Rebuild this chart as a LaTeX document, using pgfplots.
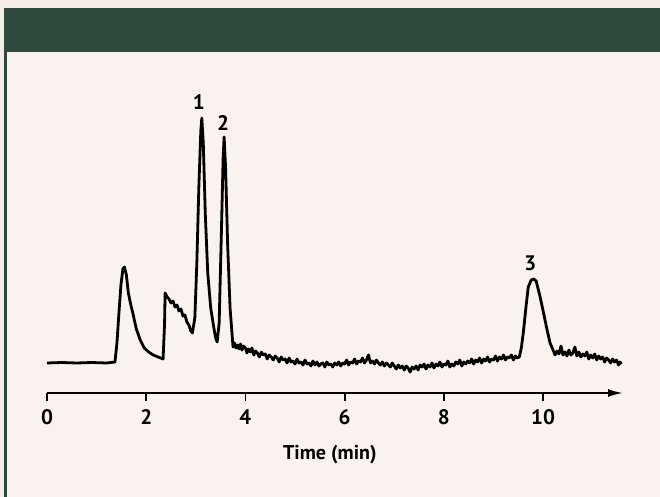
\documentclass[border=0pt]{standalone}
\usepackage{pgfplots}
\pgfplotsset{compat=1.18}
\usetikzlibrary{arrows.meta}
\usepackage{fontspec}
\setmainfont{PT Sans}
\definecolor{bgpink}{HTML}{F6ECE6}
\definecolor{panel}{HTML}{FAF2EE}
\definecolor{hdrgreen}{HTML}{2E4A3C}

\begin{document}
\begin{tikzpicture}
% frame: page, header bar, left rule
\fill[bgpink] (0,0) rectangle (660bp,497bp);
\fill[panel] (7bp,0) rectangle (660bp,445bp);
\fill[hdrgreen] (4bp,445bp) rectangle (660bp,489bp);
\fill[hdrgreen] (4bp,0) rectangle (7bp,445bp);

\begin{axis}[
  at={(47bp,104bp)}, anchor=south west,
  scale only axis, width=576bp, height=303bp,
  xmin=0, xmax=11.61, ymin=0, ymax=303,
  enlargelimits=false, clip=false,
  axis x line=bottom, axis y line=none,
  x axis line style={line width=2bp, -{Latex[length=15bp,width=8bp]}},
  xtick={0,2,4,6,8,10}, xtick align=outside,
  major tick length=8bp,
  tick style={line width=1.8bp, black},
  /pgf/number format/assume math mode=true,
  xticklabel={\bfseries\pgfmathprintnumber{\tick}},
  xticklabel style={font=\fontsize{21bp}{23bp}\selectfont, yshift=-5bp},
  xlabel={\bfseries Time (min)},
  xlabel style={font=\fontsize{20bp}{22bp}\selectfont, at={(axis description cs:0.491,0)}, anchor=center, yshift=-62bp},
]
\addplot[black, line width=2.8bp, line join=round] coordinates {
(0,30) (0.3,30.5) (0.6,30) (0.9,30.5) (1.2,30) (1.37,31)
(1.41,50) (1.45,80) (1.49,108) (1.53,124) (1.56,126) (1.60,118) (1.64,100)
(1.69,88) (1.73,80) (1.80,64) (1.88,53) (1.96,45) (2.05,41) (2.14,38) (2.24,36) (2.34,34)
(2.37,70) (2.38,100) (2.42,96) (2.46,94) (2.50,90) (2.54,92) (2.58,86) (2.62,88)
(2.66,82) (2.70,84) (2.74,77) (2.78,78) (2.82,71) (2.86,68) (2.90,62) (2.93,60)
(2.98,75) (3.02,130) (3.06,205) (3.10,262) (3.12,275) (3.15,250) (3.19,180)
(3.24,120) (3.30,85) (3.36,66) (3.40,55) (3.43,51)
(3.47,70) (3.51,150) (3.55,235) (3.57,256) (3.60,225) (3.64,150) (3.69,85) (3.75,46)
(3.78,50) (3.81,45) (3.84,48) (3.87,44) (3.90,49) (3.93,43) (3.96,47) (4.00,45)
(4.03,40) (4.06,44) (4.10,41) (4.13,45) (4.17,38) (4.20,42) (4.24,40) (4.28,36)
(4.32,41) (4.36,38) (4.40,39) (4.44,34) (4.48,38) (4.52,36) (4.56,33) (4.60,37)
(4.64,35) (4.68,31) (4.72,36) (4.76,33) (4.80,34) (4.84,30) (4.88,35) (4.92,31)
(4.96,32) (5.00,29) (5.04,34) (5.08,30) (5.12,31) (5.16,28) (5.20,33) (5.24,29)
(5.28,30) (5.32,27) (5.36,32) (5.40,28) (5.44,31) (5.48,27) (5.52,29) (5.56,30)
(5.60,26) (5.64,31) (5.68,28) (5.72,29) (5.76,26) (5.80,30) (5.84,28) (5.88,31)
(5.92,27) (5.96,30) (6.00,29) (6.04,33) (6.08,28) (6.12,31) (6.16,30) (6.20,34)
(6.24,29) (6.28,32) (6.32,31) (6.36,35) (6.40,30) (6.44,33) (6.48,38) (6.52,30)
(6.56,32) (6.60,29) (6.64,33) (6.68,30) (6.72,28) (6.76,31) (6.80,27) (6.84,30)
(6.88,28) (6.92,26) (6.96,30) (7.00,27) (7.04,24) (7.08,28) (7.12,25) (7.16,27)
(7.20,23) (7.24,27) (7.28,25) (7.32,21) (7.36,26) (7.40,24) (7.44,27) (7.48,23)
(7.52,28) (7.56,26) (7.60,29) (7.64,24) (7.68,28) (7.72,26) (7.76,30) (7.80,25)
(7.84,29) (7.88,27) (7.92,31) (7.96,26) (8.00,29) (8.04,28) (8.08,32) (8.12,26)
(8.16,29) (8.20,27) (8.24,31) (8.28,29) (8.32,33) (8.36,27) (8.40,31) (8.44,29)
(8.48,32) (8.52,30) (8.56,34) (8.60,29) (8.64,33) (8.68,31) (8.72,35) (8.76,30)
(8.80,34) (8.84,32) (8.88,36) (8.92,31) (8.96,34) (9.00,33) (9.04,37) (9.08,32)
(9.12,36) (9.16,34) (9.20,38) (9.24,33) (9.28,36) (9.32,35) (9.36,38) (9.40,33)
(9.44,37) (9.48,35) (9.52,36)
(9.56,45) (9.60,60) (9.65,84) (9.70,106) (9.76,113) (9.81,114) (9.86,112)
(9.90,104) (9.94,96) (10.00,82) (10.08,63) (10.14,50) (10.20,43)
(10.24,38) (10.28,42) (10.32,39) (10.36,47) (10.40,38) (10.44,41) (10.48,37)
(10.52,43) (10.56,38) (10.60,40) (10.64,46) (10.68,37) (10.72,41) (10.76,36)
(10.80,39) (10.84,37) (10.88,41) (10.92,34) (10.96,38) (11.00,35) (11.04,39)
(11.08,33) (11.12,37) (11.16,34) (11.20,36) (11.24,31) (11.28,35) (11.32,33)
(11.36,30) (11.40,34) (11.44,31) (11.48,33) (11.52,28) (11.55,31) (11.58,29)
};
\node[font=\fontsize{21bp}{23bp}\selectfont\bfseries] at (axis cs:3.06,291) {1};
\node[font=\fontsize{21bp}{23bp}\selectfont\bfseries] at (axis cs:3.55,270) {2};
\node[font=\fontsize{21bp}{23bp}\selectfont\bfseries] at (axis cs:9.74,130) {3};
\end{axis}
\end{tikzpicture}
\end{document}
